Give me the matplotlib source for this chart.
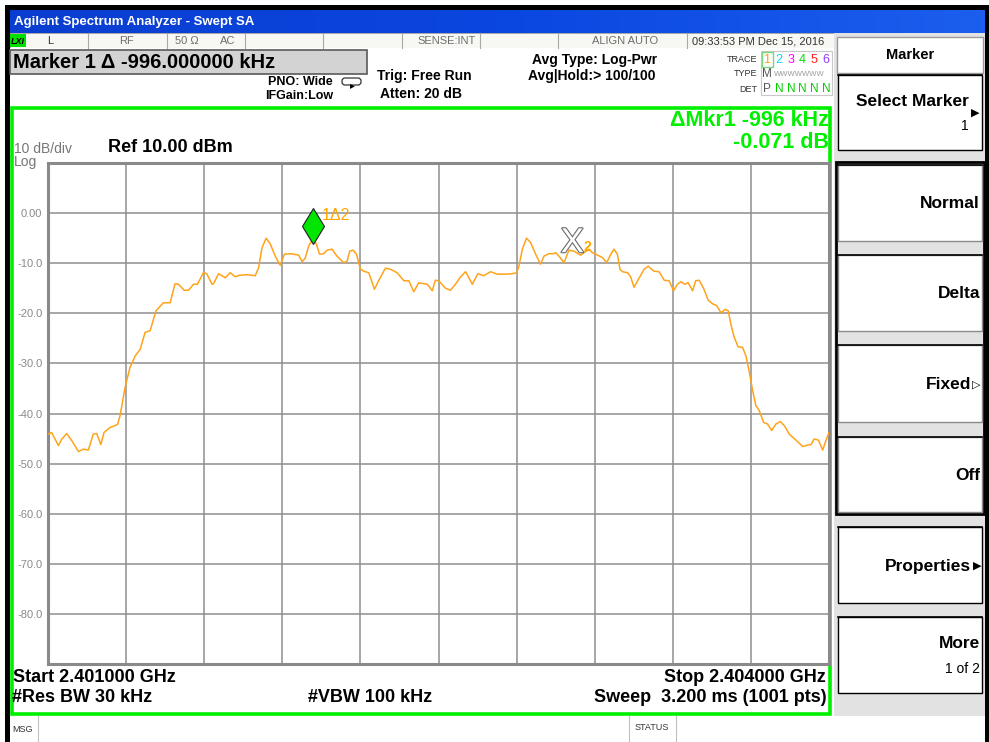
import matplotlib
matplotlib.use("Agg")
import matplotlib.pyplot as plt
import matplotlib.patheffects as pe
import numpy as np
from matplotlib.patches import Rectangle, FancyBboxPatch
from matplotlib.transforms import offset_copy

plt.rcParams["font.family"] = ["Liberation Sans", "DejaVu Sans"]

# sweep settings
start_mhz = 2401.0
stop_mhz = 2404.0
ref_dbm = 10.0
db_per_div = 10.0

# averaged trace 1, offset from start frequency (MHz) and level (dBm)
offset_mhz = [
    0.000, 0.014, 0.040, 0.053, 0.072, 0.091, 0.117, 0.136, 0.155, 0.174,
    0.187, 0.203, 0.215, 0.238, 0.267, 0.277, 0.296, 0.315, 0.335, 0.354,
    0.373, 0.392, 0.415, 0.443, 0.469, 0.488, 0.501, 0.523, 0.540, 0.559,
    0.574, 0.597, 0.610, 0.630, 0.636, 0.655, 0.681, 0.700, 0.719, 0.736,
    0.764, 0.796, 0.809, 0.822, 0.838, 0.854, 0.873, 0.892, 0.908, 0.931,
    0.943, 0.963, 0.976, 0.988, 1.001, 1.018, 1.031, 1.043, 1.059, 1.072,
    1.091, 1.110, 1.136, 1.149, 1.159, 1.172, 1.185, 1.200, 1.213, 1.232,
    1.254, 1.270, 1.296, 1.315, 1.341, 1.367, 1.386, 1.405, 1.424, 1.457,
    1.476, 1.488, 1.501, 1.527, 1.546, 1.565, 1.585, 1.604, 1.630, 1.651,
    1.674, 1.700, 1.726, 1.751, 1.783, 1.800, 1.809, 1.822, 1.838, 1.854,
    1.873, 1.892, 1.905, 1.924, 1.941, 1.950, 1.963, 1.982, 2.001, 2.020,
    2.046, 2.059, 2.078, 2.091, 2.104, 2.130, 2.146, 2.162, 2.174, 2.187,
    2.197, 2.207, 2.226, 2.238, 2.251, 2.268, 2.290, 2.305, 2.328, 2.347,
    2.367, 2.386, 2.403, 2.418, 2.431, 2.446, 2.459, 2.476, 2.488, 2.501,
    2.518, 2.536, 2.553, 2.569, 2.585, 2.601, 2.613, 2.623, 2.636, 2.651,
    2.668, 2.681, 2.693, 2.707, 2.719, 2.732, 2.749, 2.764, 2.780, 2.796,
    2.813, 2.831, 2.847, 2.873, 2.899, 2.918, 2.931, 2.943, 2.959, 2.976,
    2.988, 3.000,
]
level_dbm = [
    -44.1, -43.8, -46.4, -45.1, -44.0, -45.4, -47.6, -47.1, -47.3, -44.1,
    -44.0, -46.2, -43.8, -42.8, -42.2, -40.4, -34.8, -30.8, -28.5, -27.2,
    -23.8, -23.5, -19.5, -17.9, -17.9, -14.1, -14.2, -15.4, -15.4, -14.2,
    -14.2, -11.9, -12.1, -14.2, -14.1, -12.1, -12.9, -11.9, -12.7, -12.4,
    -12.3, -12.5, -10.9, -6.9, -5.0, -6.2, -8.6, -10.4, -8.2, -8.1,
    -8.2, -8.4, -9.7, -9.0, -6.6, -5.1, -6.2, -8.2, -8.1, -7.4,
    -7.2, -8.6, -9.9, -9.6, -7.6, -7.4, -8.2, -11.2, -11.6, -11.9,
    -15.2, -13.5, -11.0, -11.2, -11.9, -13.5, -13.5, -15.7, -13.9, -14.2,
    -15.5, -13.4, -13.5, -15.0, -15.4, -14.2, -12.7, -11.7, -14.2, -12.1,
    -12.5, -11.7, -12.2, -12.2, -12.1, -11.9, -10.6, -7.2, -5.0, -5.9,
    -8.2, -10.2, -8.6, -8.1, -8.1, -7.9, -8.6, -9.9, -7.4, -7.6,
    -8.4, -7.9, -7.2, -7.9, -8.2, -8.9, -9.9, -8.2, -7.2, -8.2,
    -11.2, -11.7, -11.9, -12.7, -14.8, -13.2, -11.2, -10.6, -11.6, -11.7,
    -13.4, -13.5, -15.5, -14.2, -13.7, -14.2, -13.9, -15.5, -13.5, -13.4,
    -15.0, -17.4, -18.1, -18.5, -19.9, -19.2, -19.5, -22.2, -24.8, -26.7,
    -26.8, -28.5, -31.5, -35.5, -38.4, -39.4, -41.8, -42.1, -43.4, -42.1,
    -41.6, -42.6, -44.1, -45.3, -46.6, -46.3, -46.2, -45.1, -45.3, -47.3,
    -45.4, -43.8,
]

# markers: 1 is the delta marker, 2 its reference
mkr1_mhz = 2402.018
mkr1_dbm = -5.1
delta_khz = -996
delta_db = -0.071
mkr2_mhz = mkr1_mhz - delta_khz / 1000.0
mkr2_dbm = mkr1_dbm - delta_db

y_labels = ["-80.0", "-70.0", "-60.0", "-50.0", "-40.0", "-30.0", "-20.0", "-10.0", "0.00"]

status_cells = [88, 167, 245, 323, 402, 480, 558, 687]
trace_nums = ["1", "2", "3", "4", "5", "6"]
trace_colors = ["#FFA500", "#00D8FF", "#FF00FF", "#00E000", "#FF2020", "#8A3CFF"]
trace_x = [767, 779, 791, 802, 814, 826]

# softkey buttons: (top, bottom, label, sublabel, arrow)
softkeys = [
    (75, 150, "Select Marker", "1", "\u25B6"),
    (165, 241, "Normal", "", ""),
    (255, 331, "Delta", "", ""),
    (345, 422, "Fixed", "", "\u25B7"),
    (437, 512, "Off", "", ""),
    (527, 603, "Properties", "", "\u25B6"),
    (617, 693, "More", "1 of 2", ""),
]

TRACE_COLOR = "#FFA31A"
GREEN = "#00F000"
W, H = 989, 742

fig = plt.figure(figsize=(W / 100, H / 100), dpi=100)
ui = fig.add_axes([0, 0, 1, 1])
ui.axis("off")


def box(x0, y0, x1, y1, fc="white", ec="none", lw=1.0, z=1):
    ui.add_patch(Rectangle((x0, y0), x1 - x0, y1 - y0, fc=fc, ec=ec, lw=lw, zorder=z))


def txt(x, y, s, size=10, weight="bold", color="black", ha="left", va="center", **kw):
    ui.text(x, y, s, fontsize=size, fontweight=weight, color=color, ha=ha, va=va, zorder=5, **kw)


# window frame and title bar
box(0, 0, W, H, fc="white", z=0)
box(5, 5, W, H, fc="black", z=0)
grad = np.linspace(0, 1, 256).reshape(1, -1)
blue = matplotlib.colors.LinearSegmentedColormap.from_list("xp", ["#0A3ED0", "#0A46E0", "#1C5EEE"])
ui.imshow(grad, cmap=blue, extent=(10, 985, 33, 10), aspect="auto", zorder=1)
txt(14, 22, "Agilent Spectrum Analyzer - Swept SA", size=9.5, color="white")

# status row
box(10, 33, 834, 48, fc="#F7F7F4", ec="#B0B0B0", lw=0.6)
for cx in status_cells:
    ui.plot([cx, cx], [33, 48], color="#A8A8A8", lw=0.8, zorder=2)
box(10, 34, 26, 47, fc="#00E000", z=2)
txt(11, 41, "LXI", size=6.5, style="italic")
grey = "#6E6E6E"
txt(50, 41, "L", size=8, weight="normal", color="#333333", ha="center")
txt(127, 41, "RF", size=8, weight="normal", color=grey, ha="center")
txt(175, 41, "50 \u03A9", size=8, weight="normal", color=grey)
txt(220, 41, "AC", size=8, weight="normal", color=grey)
txt(476, 41, "SENSE:INT", size=8, weight="normal", color=grey, ha="right")
txt(658, 41, "ALIGN AUTO", size=8, weight="normal", color=grey, ha="right")
txt(692, 41, "09:33:53 PM Dec 15, 2016", size=8, weight="normal", color="#333333")

# measurement header
box(10, 48, 834, 106, fc="white")
box(10, 50, 367, 74, fc="#D3D3D3", ec="#5A5A5A", lw=1.2, z=2)
txt(13, 62, "Marker 1 \u0394 -996.000000 kHz", size=14.5)
txt(268, 82, "PNO: Wide", size=9)
ui.add_patch(FancyBboxPatch((342, 78), 19, 7, boxstyle="round,pad=0,rounding_size=3",
                            fc="white", ec="#333333", lw=0.9, zorder=3))
txt(352, 85, "\u25B8", size=7, ha="center")
txt(265, 96, "IFGain:Low", size=9)
txt(377, 76, "Trig: Free Run", size=10)
txt(380, 94, "Atten: 20 dB", size=10)
txt(532, 60, "Avg Type: Log-Pwr", size=10)
txt(528, 76, "Avg|Hold:> 100/100", size=10)

txt(757, 59, "TRACE", size=6.5, weight="normal", color="#333333", ha="right")
txt(757, 74, "TYPE", size=6.5, weight="normal", color="#333333", ha="right")
txt(757, 89, "DET", size=6.5, weight="normal", color="#333333", ha="right")
box(761, 51, 832, 95, fc="white", ec="#C8C8C8", lw=0.8, z=2)
box(762, 52, 773, 67, fc="none", ec="#7CD67C", lw=1.0, z=3)
for n, c, x in zip(trace_nums, trace_colors, trace_x):
    txt(x, 60, n, size=9, weight="normal", color=c, ha="center")
txt(767, 74, "M", size=8.5, weight="normal", color="#555555", ha="center")
txt(774, 74, "WWWWWWW", size=5.5, weight="normal", color="#999999")
txt(767, 89, "P", size=8.5, weight="normal", color="#555555", ha="center")
for x in trace_x[1:]:
    txt(x, 89, "N", size=8.5, weight="normal", color="#00D000", ha="center")

# graticule frame
box(10, 106, 834, 716, fc="white")
box(12, 108, 830, 714, fc="white", ec=GREEN, lw=2.6, z=2)
txt(14, 149, "10 dB/div", size=10, weight="normal", color="#777777")
txt(14, 162, "Log", size=10, weight="normal", color="#777777")
txt(108, 148, "Ref 10.00 dBm", size=13)
txt(829, 120, "\u0394Mkr1 -996 kHz", size=15.5, color=GREEN, ha="right")
txt(829, 142, "-0.071 dB", size=15.5, color=GREEN, ha="right")

txt(13, 678, "Start 2.401000 GHz", size=13)
txt(12, 698, "#Res BW 30 kHz", size=13)
txt(308, 698, "#VBW 100 kHz", size=13)
txt(826, 678, "Stop 2.404000 GHz", size=13, ha="right")
txt(827, 698, "Sweep  3.200 ms (1001 pts)", size=13, ha="right")

# message bar
box(10, 716, 985, H, fc="white")
ui.plot([38, 38], [716, H], color="#C0C0C0", lw=0.8, zorder=2)
ui.plot([629, 629], [716, H], color="#C0C0C0", lw=0.8, zorder=2)
ui.plot([676, 676], [716, H], color="#C0C0C0", lw=0.8, zorder=2)
txt(12, 729, "MSG", size=6.5, weight="normal", color="#333333")
txt(652, 728, "STATUS", size=6.5, weight="normal", color="#333333", ha="center")

# softkey panel
box(834, 33, 985, 716, fc="#E2E2E2")
box(837, 37, 983, 73, fc="white", ec="#9A9A9A", lw=1.0, z=2)
txt(910, 55, "Marker", size=10.5, ha="center")
box(836, 162, 984, 514, fc="#E2E2E2", ec="black", lw=2.0, z=2)
for top, bot, label, sub, arrow in softkeys:
    edge = "#8A8A8A" if 162 < top < 514 else "black"
    box(838, top, 982, bot, fc="white", ec=edge, lw=1.0, z=3)
    ui.plot([838, 982], [top, top], color="black", lw=1.2, zorder=4)
    mid = (top + bot) / 2
    if label == "Select Marker":
        txt(969, top + 26, label, size=12.5, ha="right")
        txt(979, top + 38, arrow, size=8, ha="right")
        txt(969, top + 51, sub, size=10, weight="normal", ha="right")
    elif sub:
        txt(980, top + 27, label, size=12.5, ha="right")
        txt(980, top + 52, sub, size=10, weight="normal", ha="right")
    elif arrow:
        txt(971, mid + 1, label, size=12.5, ha="right")
        txt(981, mid + 1, arrow, size=8, ha="right")
    else:
        txt(980, mid + 1, label, size=12.5, ha="right")

ui.set_xlim(0, W)
ui.set_ylim(H, 0)

# spectrum graticule
pa = fig.add_axes([48 / W, 1 - 664 / H, 781 / W, 501 / H])
pa.set_xlim(start_mhz, stop_mhz)
pa.set_ylim(ref_dbm - 10 * db_per_div, ref_dbm)
span = stop_mhz - start_mhz
pa.set_xticks([start_mhz + i * span / 10 for i in range(1, 10)])
pa.set_yticks([ref_dbm - i * db_per_div for i in range(9, 0, -1)])
pa.set_yticklabels(y_labels)
pa.tick_params(length=0, labelbottom=False, labelleft=True, labelsize=8, labelcolor="#8A8A8A", pad=4)
pa.grid(True, color="#8E8E8E", lw=1.1)
for s in pa.spines.values():
    s.set_color("#8A8A8A")
    s.set_linewidth(2.2)

freq_mhz = [start_mhz + f for f in offset_mhz]
pa.plot(freq_mhz, level_dbm, color=TRACE_COLOR, lw=1.1, zorder=3)

# marker 1: diamond sitting on the trace
lift = offset_copy(pa.transData, fig=fig, y=9, units="points")
pa.plot([mkr1_mhz], [mkr1_dbm], marker="d", ms=18, mfc="#00E600", mec="#202020", mew=0.8,
        transform=lift, zorder=5, clip_on=False)
pa.annotate("1\u03942", xy=(mkr1_mhz, mkr1_dbm), xytext=(6, 17), textcoords="offset points",
            color="#FFA500", fontsize=11.5, va="center", zorder=6)

# marker 2: hollow X reference marker
pa.annotate("X", xy=(mkr2_mhz, mkr2_dbm), xytext=(0, -10), textcoords="offset points",
            ha="center", va="baseline", fontsize=25, color="white", zorder=5,
            path_effects=[pe.withStroke(linewidth=1.6, foreground="#6A6A6A")])
pa.annotate("2", xy=(mkr2_mhz, mkr2_dbm), xytext=(8, -9), textcoords="offset points",
            ha="left", va="baseline", fontsize=10, fontweight="bold", color="#FFA500", zorder=6)

fig.savefig("out.png", dpi=100)
